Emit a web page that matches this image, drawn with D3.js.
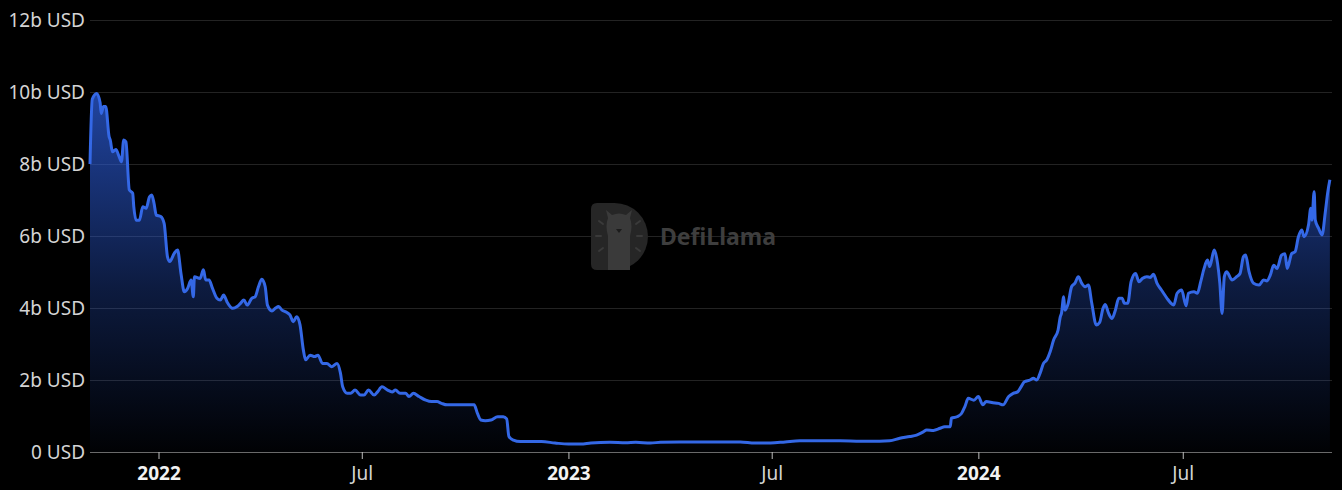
<!DOCTYPE html>
<html>
<head>
<meta charset="utf-8">
<script src="https://cdn.jsdelivr.net/npm/d3@7"></script>
<style>
  html, body { margin: 0; padding: 0; background: #000; }
  svg { display: block; font-family: "Noto Sans", "Open Sans", sans-serif; }
</style>
</head>
<body>
<div class="container"></div>
<script>
// TVL in billions of USD
const tvl2021 = [
  ["2021-11-01", 8.0], ["2021-11-03", 9.8], ["2021-11-07", 9.96], ["2021-11-10", 9.7], ["2021-11-11", 9.4],
  ["2021-11-13", 9.6], ["2021-11-15", 9.6], ["2021-11-18", 8.76], ["2021-11-19", 8.67], ["2021-11-21", 8.34],
  ["2021-11-24", 8.4], ["2021-11-27", 8.2], ["2021-11-29", 8.06], ["2021-12-01", 8.67], ["2021-12-03", 8.62],
  ["2021-12-06", 7.28], ["2021-12-09", 7.19], ["2021-12-10", 6.81], ["2021-12-12", 6.44], ["2021-12-15", 6.44],
  ["2021-12-18", 6.81], ["2021-12-21", 6.77], ["2021-12-24", 7.09], ["2021-12-26", 7.14], ["2021-12-28", 6.91],
  ["2021-12-30", 6.58]
]
const tvl2022 = [
  ["2022-01-03", 6.54], ["2022-01-06", 6.35], ["2022-01-09", 5.42], ["2022-01-11", 5.29], ["2022-01-15", 5.52],
  ["2022-01-18", 5.61], ["2022-01-21", 4.96], ["2022-01-24", 4.45], ["2022-01-27", 4.55], ["2022-01-30", 4.78],
  ["2022-02-01", 4.31], ["2022-02-02", 4.87], ["2022-02-07", 4.82], ["2022-02-10", 5.06], ["2022-02-12", 4.78],
  ["2022-02-15", 4.78], ["2022-02-18", 4.55], ["2022-02-22", 4.27], ["2022-02-25", 4.22], ["2022-02-28", 4.36],
  ["2022-03-03", 4.17], ["2022-03-08", 3.99], ["2022-03-12", 4.04], ["2022-03-15", 4.13], ["2022-03-18", 4.22],
  ["2022-03-21", 4.08], ["2022-03-25", 4.27], ["2022-03-28", 4.31], ["2022-03-31", 4.59], ["2022-04-03", 4.8],
  ["2022-04-06", 4.59], ["2022-04-08", 4.08], ["2022-04-12", 3.92], ["2022-04-15", 3.99], ["2022-04-18", 4.04],
  ["2022-04-21", 3.94], ["2022-04-25", 3.88], ["2022-04-28", 3.81], ["2022-05-01", 3.62], ["2022-05-04", 3.76],
  ["2022-05-07", 3.53], ["2022-05-10", 2.83], ["2022-05-12", 2.56], ["2022-05-16", 2.69], ["2022-05-20", 2.65],
  ["2022-05-23", 2.69], ["2022-05-27", 2.46], ["2022-05-31", 2.46], ["2022-06-04", 2.37], ["2022-06-09", 2.46],
  ["2022-06-12", 2.19], ["2022-06-14", 1.81], ["2022-06-18", 1.63], ["2022-06-21", 1.63], ["2022-06-25", 1.72],
  ["2022-06-30", 1.58], ["2022-07-03", 1.58], ["2022-07-07", 1.72], ["2022-07-12", 1.58], ["2022-07-15", 1.67],
  ["2022-07-19", 1.81], ["2022-07-24", 1.72], ["2022-07-28", 1.67], ["2022-07-31", 1.72], ["2022-08-04", 1.63],
  ["2022-08-09", 1.63], ["2022-08-12", 1.54], ["2022-08-16", 1.63], ["2022-08-21", 1.54], ["2022-08-27", 1.44],
  ["2022-09-01", 1.40], ["2022-09-06", 1.40], ["2022-09-10", 1.35], ["2022-09-15", 1.31], ["2022-09-24", 1.31],
  ["2022-10-03", 1.31], ["2022-10-09", 1.31], ["2022-10-12", 1.07], ["2022-10-15", 0.89], ["2022-10-19", 0.87],
  ["2022-10-24", 0.89], ["2022-10-30", 0.98], ["2022-11-04", 0.98], ["2022-11-07", 0.92], ["2022-11-09", 0.43],
  ["2022-11-13", 0.33], ["2022-11-19", 0.29], ["2022-12-03", 0.29], ["2022-12-08", 0.29], ["2022-12-20", 0.25]
]
const tvl2023 = [
  ["2023-01-01", 0.22], ["2023-01-12", 0.22], ["2023-01-21", 0.25], ["2023-02-07", 0.27], ["2023-02-21", 0.26],
  ["2023-03-02", 0.27], ["2023-03-15", 0.25], ["2023-03-24", 0.27], ["2023-04-10", 0.28], ["2023-04-28", 0.28],
  ["2023-05-16", 0.28], ["2023-06-03", 0.28], ["2023-06-16", 0.25], ["2023-06-30", 0.25], ["2023-07-13", 0.28],
  ["2023-07-26", 0.31], ["2023-08-13", 0.31], ["2023-08-31", 0.31], ["2023-09-18", 0.30], ["2023-10-05", 0.30],
  ["2023-10-14", 0.31], ["2023-10-23", 0.38], ["2023-11-01", 0.43], ["2023-11-07", 0.47], ["2023-11-13", 0.56],
  ["2023-11-16", 0.61], ["2023-11-22", 0.60], ["2023-11-28", 0.66], ["2023-12-02", 0.70], ["2023-12-07", 0.70],
  ["2023-12-08", 0.94], ["2023-12-13", 0.98], ["2023-12-17", 1.07], ["2023-12-20", 1.26], ["2023-12-23", 1.49],
  ["2023-12-28", 1.44]
]
const tvl2024 = [
  ["2024-01-01", 1.54], ["2024-01-05", 1.31], ["2024-01-08", 1.40], ["2024-01-14", 1.37], ["2024-01-19", 1.35],
  ["2024-01-23", 1.31], ["2024-01-28", 1.54], ["2024-02-01", 1.63], ["2024-02-05", 1.67], ["2024-02-08", 1.81],
  ["2024-02-11", 1.95], ["2024-02-16", 2.0], ["2024-02-19", 2.05], ["2024-02-22", 2.0], ["2024-02-25", 2.19],
  ["2024-02-28", 2.46], ["2024-03-02", 2.56], ["2024-03-05", 2.79], ["2024-03-08", 3.11], ["2024-03-12", 3.39],
  ["2024-03-14", 3.76], ["2024-03-15", 3.85], ["2024-03-17", 4.31], ["2024-03-18", 3.94], ["2024-03-21", 4.13],
  ["2024-03-24", 4.59], ["2024-03-27", 4.69], ["2024-03-30", 4.87], ["2024-04-02", 4.69], ["2024-04-05", 4.59],
  ["2024-04-08", 4.64], ["2024-04-11", 4.13], ["2024-04-15", 3.53], ["2024-04-18", 3.6], ["2024-04-21", 3.99],
  ["2024-04-23", 4.1], ["2024-04-26", 3.85], ["2024-04-29", 3.71], ["2024-05-02", 3.94], ["2024-05-05", 4.27],
  ["2024-05-08", 4.27], ["2024-05-10", 4.13], ["2024-05-13", 4.13], ["2024-05-16", 4.73], ["2024-05-20", 4.96],
  ["2024-05-23", 4.73], ["2024-05-26", 4.82], ["2024-05-30", 4.87], ["2024-06-02", 4.85], ["2024-06-05", 4.94],
  ["2024-06-08", 4.69], ["2024-06-12", 4.5], ["2024-06-17", 4.27], ["2024-06-20", 4.15], ["2024-06-23", 4.08],
  ["2024-06-26", 4.41], ["2024-06-30", 4.5], ["2024-07-04", 4.06], ["2024-07-06", 4.41], ["2024-07-11", 4.45],
  ["2024-07-14", 4.41], ["2024-07-17", 4.73], ["2024-07-20", 5.1], ["2024-07-23", 5.33], ["2024-07-25", 5.15],
  ["2024-07-29", 5.61], ["2024-08-01", 5.24], ["2024-08-03", 4.69], ["2024-08-05", 3.85], ["2024-08-07", 4.87],
  ["2024-08-09", 5.01], ["2024-08-14", 4.78], ["2024-08-18", 4.87], ["2024-08-21", 4.96], ["2024-08-24", 5.42],
  ["2024-08-26", 5.47], ["2024-08-29", 5.01], ["2024-09-02", 4.69], ["2024-09-07", 4.64], ["2024-09-11", 4.78],
  ["2024-09-14", 4.75], ["2024-09-17", 4.92], ["2024-09-20", 5.19], ["2024-09-23", 5.1], ["2024-09-27", 5.47],
  ["2024-09-30", 5.51], ["2024-10-02", 5.1], ["2024-10-06", 5.51], ["2024-10-09", 5.56], ["2024-10-12", 5.98],
  ["2024-10-15", 6.17], ["2024-10-17", 5.98], ["2024-10-21", 6.31], ["2024-10-23", 6.77], ["2024-10-24", 6.44],
  ["2024-10-26", 7.23], ["2024-10-27", 6.44], ["2024-10-30", 6.21], ["2024-11-02", 6.03], ["2024-11-05", 6.68],
  ["2024-11-07", 7.19], ["2024-11-09", 7.56]
]

const yTicks = [0, 2, 4, 6, 8, 10, 12]
const yTickLabels = ["0 USD", "2b USD", "4b USD", "6b USD", "8b USD", "10b USD", "12b USD"]
const xTickDates = ["2022-01-01", "2022-07-01", "2023-01-01", "2023-07-01", "2024-01-01", "2024-07-01"]
const xTickLabels = ["2022", "Jul", "2023", "Jul", "2024", "Jul"]
const xDomain = ["2021-11-01", "2024-11-10"]

const w = 1342
const h = 490
const padLeft = 90
const padRight = 1331
const padTop = 20
const padBottom = 452

const parse = d3.utcParse("%Y-%m-%d")
const data = [...tvl2021, ...tvl2022, ...tvl2023, ...tvl2024].map(d => ({ date: parse(d[0]), value: d[1] }))

const x = d3.scaleUtc()
  .domain(xDomain.map(parse))
  .range([padLeft, padRight])

const y = d3.scaleLinear()
  .domain([0, 12])
  .range([padBottom, padTop])

const svg = d3.select(".container")
  .append("svg")
  .attr("width", w)
  .attr("height", h)

svg.append("rect").attr("width", w).attr("height", h).attr("fill", "#000")

// gradient under the line
const grad = svg.append("defs").append("linearGradient")
  .attr("id", "fillGrad")
  .attr("gradientUnits", "userSpaceOnUse")
  .attr("x1", 0).attr("x2", 0)
  .attr("y1", y(10)).attr("y2", y(0))
grad.append("stop").attr("offset", "0%").attr("stop-color", "#2d5fe0").attr("stop-opacity", 0.72)
grad.append("stop").attr("offset", "55%").attr("stop-color", "#2d5fe0").attr("stop-opacity", 0.28)
grad.append("stop").attr("offset", "100%").attr("stop-color", "#2d5fe0").attr("stop-opacity", 0.02)

// y axis: labels + grid lines
const yAxis = d3.axisLeft(y)
  .tickValues(yTicks)
  .tickSize(-(padRight - padLeft + 1))
  .tickPadding(5)
  .tickFormat((d, i) => yTickLabels[i])

svg.append("g")
  .attr("transform", `translate(${padLeft},0)`)
  .call(yAxis)
  .call(g => g.select(".domain").remove())
  .call(g => g.selectAll(".tick line").attr("stroke", "#232323"))
  .call(g => g.selectAll(".tick text")
    .attr("fill", "#d4d4d4")
    .attr("font-size", 19)
    .attr("font-family", "'Noto Sans', sans-serif"))

// DefiLlama watermark
const wm = svg.append("g").attr("id", "watermark")
wm.append("path")
  .attr("d", "M597,203 H614.5 A33.5,33.5 0 0 1 614.5,270 H597 Q591,270 591,264 V209 Q591,203 597,203 Z")
  .attr("fill", "#262626")
wm.append("path")
  .attr("d", "M608,270 V236 Q605,226 608,218 L606,210 L612,215 Q619,212 626,215 L632,210 L630,218 Q633,226 630,236 V270 Z")
  .attr("fill", "#3a3a3a")
wm.append("path")
  .attr("d", "M616,229 L619,233 L622,229 Z")
  .attr("fill", "#1c1c1c")
const rays = [[599, 221, 603, 224], [596, 236, 601, 236], [599, 251, 603, 248], [636, 224, 640, 221], [637, 236, 642, 236], [636, 248, 640, 251]]
wm.selectAll("line.ray").data(rays).enter().append("line")
  .attr("class", "ray")
  .attr("x1", d => d[0]).attr("y1", d => d[1]).attr("x2", d => d[2]).attr("y2", d => d[3])
  .attr("stroke", "#3a3a3a").attr("stroke-width", 2).attr("stroke-linecap", "round")
wm.append("text")
  .attr("x", 660).attr("y", 245)
  .attr("fill", "#3e3e3e")
  .attr("font-size", 23)
  .attr("font-weight", "bold")
  .attr("font-family", "'Noto Sans', sans-serif")
  .text("DefiLlama")

const area = d3.area()
  .x(d => x(d.date))
  .y0(y(0))
  .y1(d => y(d.value))
  .curve(d3.curveMonotoneX)

const line = d3.line()
  .x(d => x(d.date))
  .y(d => y(d.value))
  .curve(d3.curveMonotoneX)

svg.append("path")
  .datum(data)
  .attr("d", area)
  .attr("fill", "url(#fillGrad)")

svg.append("path")
  .datum(data)
  .attr("d", line)
  .attr("fill", "none")
  .attr("stroke", "#3468e6")
  .attr("stroke-width", 3)
  .attr("stroke-linejoin", "round")

// x axis
const xAxis = d3.axisBottom(x)
  .tickValues(xTickDates.map(parse))
  .tickSize(7)
  .tickPadding(8)
  .tickFormat((d, i) => xTickLabels[i])

svg.append("g")
  .attr("transform", `translate(0,${padBottom})`)
  .call(xAxis)
  .call(g => g.select(".domain").attr("stroke", "#6a6a6a").attr("d", `M${padLeft},0.5H${padRight + 1}`))
  .call(g => g.selectAll(".tick line").attr("stroke", "#bdbdbd"))
  .call(g => g.selectAll(".tick text")
    .attr("fill", (d, i) => xTickLabels[i] === "Jul" ? "#d4d4d4" : "#f2f2f2")
    .attr("font-weight", (d, i) => xTickLabels[i] === "Jul" ? "normal" : "bold")
    .attr("font-size", 19)
    .attr("font-family", "'Noto Sans', sans-serif"))
</script>
</body>
</html>
